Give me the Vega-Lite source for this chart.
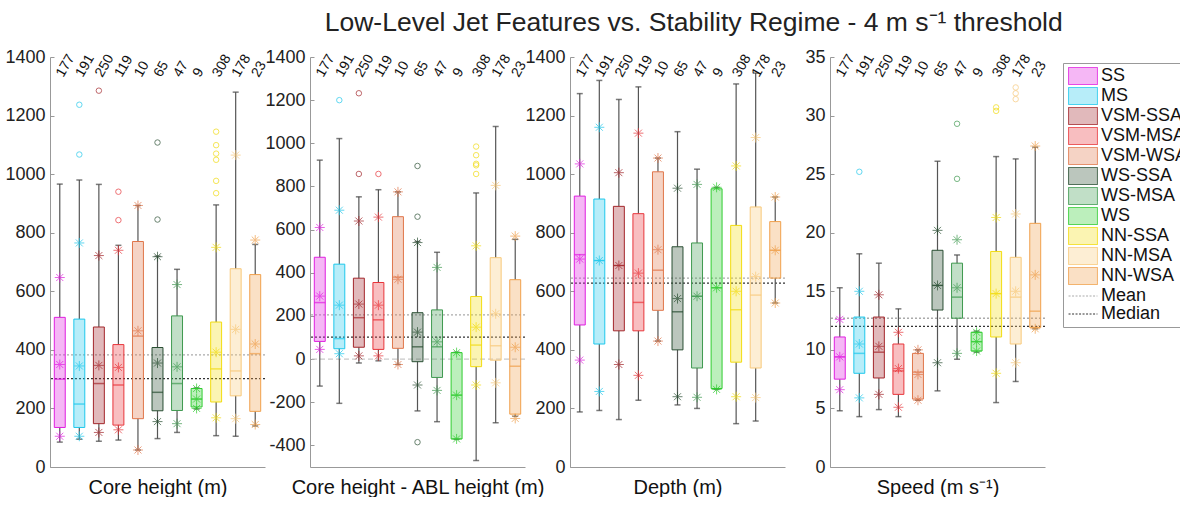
{
  "$schema": "https://vega.github.io/schema/vega-lite/v6.json",
  "background": "white",
  "padding": {"left": 4, "top": 9, "right": 0, "bottom": 0},
  "title": {"text": "Low-Level Jet Features vs. Stability Regime - 4 m s⁻¹ threshold", "fontSize": 26.5, "fontWeight": "normal", "color": "#222", "anchor": "middle", "dx": 95, "offset": 12},
  "datasets": {
    "stats": [
      {"p":1,"g":"SS","n":177,"lo":85,"q1":135,"med":300,"q3":511,"hi":966,"mean":350,"plo":105,"phi":647},
      {"p":1,"g":"MS","n":191,"lo":95,"q1":135,"med":215,"q3":505,"hi":980,"mean":345,"plo":105,"phi":765},
      {"p":1,"g":"VSM-SSA","n":250,"lo":88,"q1":148,"med":285,"q3":478,"hi":965,"mean":347,"plo":118,"phi":722},
      {"p":1,"g":"VSM-MSA","n":119,"lo":92,"q1":143,"med":280,"q3":418,"hi":757,"mean":340,"plo":127,"phi":740},
      {"p":1,"g":"VSM-WSA","n":10,"lo":58,"q1":165,"med":447,"q3":770,"hi":893,"mean":465,"plo":58,"phi":893},
      {"p":1,"g":"WS-SSA","n":65,"lo":97,"q1":192,"med":255,"q3":408,"hi":720,"mean":355,"plo":155,"phi":718},
      {"p":1,"g":"WS-MSA","n":47,"lo":118,"q1":193,"med":285,"q3":516,"hi":675,"mean":342,"plo":148,"phi":623},
      {"p":1,"g":"WS","n":9,"lo":198,"q1":205,"med":232,"q3":268,"hi":270,"mean":232,"plo":200,"phi":268},
      {"p":1,"g":"NN-SSA","n":308,"lo":107,"q1":222,"med":335,"q3":495,"hi":895,"mean":392,"plo":168,"phi":750},
      {"p":1,"g":"NN-MSA","n":178,"lo":105,"q1":243,"med":328,"q3":677,"hi":1280,"mean":470,"plo":165,"phi":1065},
      {"p":1,"g":"NN-WSA","n":23,"lo":140,"q1":190,"med":387,"q3":657,"hi":760,"mean":420,"plo":145,"phi":775},

      {"p":2,"g":"SS","n":177,"lo":-125,"q1":82,"med":262,"q3":472,"hi":922,"mean":292,"plo":45,"phi":610},
      {"p":2,"g":"MS","n":191,"lo":-205,"q1":48,"med":95,"q3":440,"hi":1022,"mean":250,"plo":25,"phi":690},
      {"p":2,"g":"VSM-SSA","n":250,"lo":-18,"q1":55,"med":192,"q3":375,"hi":752,"mean":255,"plo":15,"phi":640},
      {"p":2,"g":"VSM-MSA","n":119,"lo":-8,"q1":45,"med":182,"q3":355,"hi":785,"mean":250,"plo":15,"phi":658},
      {"p":2,"g":"VSM-WSA","n":10,"lo":-25,"q1":50,"med":380,"q3":660,"hi":775,"mean":370,"plo":-25,"phi":775},
      {"p":2,"g":"WS-SSA","n":65,"lo":-240,"q1":-12,"med":57,"q3":215,"hi":545,"mean":125,"plo":-120,"phi":540},
      {"p":2,"g":"WS-MSA","n":47,"lo":-290,"q1":-85,"med":57,"q3":228,"hi":495,"mean":80,"plo":-145,"phi":425},
      {"p":2,"g":"WS","n":9,"lo":-372,"q1":-370,"med":-167,"q3":30,"hi":32,"mean":-167,"plo":-370,"phi":30},
      {"p":2,"g":"NN-SSA","n":308,"lo":-470,"q1":-35,"med":65,"q3":290,"hi":770,"mean":148,"plo":-120,"phi":525},
      {"p":2,"g":"NN-MSA","n":178,"lo":-295,"q1":-5,"med":62,"q3":470,"hi":1078,"mean":210,"plo":-110,"phi":805},
      {"p":2,"g":"NN-WSA","n":23,"lo":-265,"q1":-255,"med":-33,"q3":368,"hi":555,"mean":55,"plo":-275,"phi":570},

      {"p":3,"g":"SS","n":177,"lo":188,"q1":485,"med":725,"q3":925,"hi":1275,"mean":710,"plo":365,"phi":1035},
      {"p":3,"g":"MS","n":191,"lo":193,"q1":420,"med":705,"q3":915,"hi":1320,"mean":705,"plo":258,"phi":1160},
      {"p":3,"g":"VSM-SSA","n":250,"lo":162,"q1":465,"med":688,"q3":890,"hi":1255,"mean":688,"plo":350,"phi":1005},
      {"p":3,"g":"VSM-MSA","n":119,"lo":228,"q1":465,"med":562,"q3":865,"hi":1298,"mean":662,"plo":313,"phi":1140},
      {"p":3,"g":"VSM-WSA","n":10,"lo":430,"q1":535,"med":672,"q3":1008,"hi":1055,"mean":742,"plo":430,"phi":1055},
      {"p":3,"g":"WS-SSA","n":65,"lo":212,"q1":400,"med":530,"q3":752,"hi":1145,"mean":575,"plo":240,"phi":952},
      {"p":3,"g":"WS-MSA","n":47,"lo":200,"q1":338,"med":583,"q3":765,"hi":1017,"mean":583,"plo":238,"phi":965},
      {"p":3,"g":"WS","n":9,"lo":265,"q1":268,"med":612,"q3":950,"hi":955,"mean":612,"plo":265,"phi":955},
      {"p":3,"g":"NN-SSA","n":308,"lo":148,"q1":358,"med":537,"q3":825,"hi":1308,"mean":600,"plo":240,"phi":1028},
      {"p":3,"g":"NN-MSA","n":178,"lo":157,"q1":338,"med":587,"q3":888,"hi":1345,"mean":650,"plo":237,"phi":1125},
      {"p":3,"g":"NN-WSA","n":23,"lo":560,"q1":645,"med":740,"q3":838,"hi":922,"mean":740,"plo":560,"phi":922},

      {"p":4,"g":"SS","n":177,"lo":4.8,"q1":7.5,"med":9.4,"q3":11.1,"hi":15.3,"mean":9.4,"plo":6.6,"phi":12.6},
      {"p":4,"g":"MS","n":191,"lo":4.3,"q1":8.0,"med":9.7,"q3":12.8,"hi":18.2,"mean":10.5,"plo":5.9,"phi":15.0},
      {"p":4,"g":"VSM-SSA","n":250,"lo":4.9,"q1":7.6,"med":9.8,"q3":12.8,"hi":17.4,"mean":10.3,"plo":6.2,"phi":14.7},
      {"p":4,"g":"VSM-MSA","n":119,"lo":4.3,"q1":6.2,"med":8.2,"q3":10.5,"hi":13.5,"mean":8.4,"plo":5.1,"phi":11.5},
      {"p":4,"g":"VSM-WSA","n":10,"lo":5.7,"q1":5.8,"med":8.1,"q3":9.7,"hi":10.0,"mean":7.9,"plo":5.7,"phi":10.0},
      {"p":4,"g":"WS-SSA","n":65,"lo":6.5,"q1":13.4,"med":15.5,"q3":18.5,"hi":26.1,"mean":15.5,"plo":8.9,"phi":20.2},
      {"p":4,"g":"WS-MSA","n":47,"lo":9.2,"q1":12.7,"med":14.5,"q3":17.4,"hi":18.1,"mean":15.3,"plo":9.7,"phi":19.4},
      {"p":4,"g":"WS","n":9,"lo":9.8,"q1":9.9,"med":10.7,"q3":11.5,"hi":11.6,"mean":10.7,"plo":9.9,"phi":11.5},
      {"p":4,"g":"NN-SSA","n":308,"lo":5.5,"q1":11.1,"med":14.8,"q3":18.4,"hi":26.5,"mean":14.8,"plo":8.0,"phi":21.3},
      {"p":4,"g":"NN-MSA","n":178,"lo":7.3,"q1":10.5,"med":14.5,"q3":17.9,"hi":26.3,"mean":15.0,"plo":8.9,"phi":21.6},
      {"p":4,"g":"NN-WSA","n":23,"lo":11.8,"q1":11.9,"med":13.3,"q3":20.8,"hi":27.3,"mean":16.4,"plo":11.8,"phi":27.4}
    ],
    "outliers": [
      {"p":1,"g":"MS","v":1237},{"p":1,"g":"MS","v":1067},{"p":1,"g":"VSM-SSA","v":1285},
      {"p":1,"g":"VSM-MSA","v":940},{"p":1,"g":"VSM-MSA","v":843},
      {"p":1,"g":"WS-SSA","v":1108},{"p":1,"g":"WS-SSA","v":845},
      {"p":1,"g":"NN-SSA","v":1145},{"p":1,"g":"NN-SSA","v":1099},{"p":1,"g":"NN-SSA","v":1070},{"p":1,"g":"NN-SSA","v":1049},{"p":1,"g":"NN-SSA","v":977},{"p":1,"g":"NN-SSA","v":935},
      {"p":2,"g":"MS","v":1200},{"p":2,"g":"VSM-SSA","v":1232},{"p":2,"g":"VSM-SSA","v":858},{"p":2,"g":"VSM-MSA","v":858},
      {"p":2,"g":"WS-SSA","v":895},{"p":2,"g":"WS-SSA","v":660},{"p":2,"g":"WS-SSA","v":-385},
      {"p":2,"g":"NN-SSA","v":985},{"p":2,"g":"NN-SSA","v":945},{"p":2,"g":"NN-SSA","v":905},{"p":2,"g":"NN-SSA","v":898},{"p":2,"g":"NN-SSA","v":858},
      {"p":4,"g":"MS","v":25.2},{"p":4,"g":"WS-MSA","v":29.3},{"p":4,"g":"WS-MSA","v":24.6},
      {"p":4,"g":"NN-SSA","v":30.7},{"p":4,"g":"NN-SSA","v":30.4},
      {"p":4,"g":"NN-MSA","v":32.4},{"p":4,"g":"NN-MSA","v":31.9},{"p":4,"g":"NN-MSA","v":31.4}
    ],
    "ref": [
      {"p":1,"g":"Mean","v":383},{"p":1,"g":"Median","v":302},
      {"p":2,"g":"Mean","v":205},{"p":2,"g":"Median","v":102},
      {"p":3,"g":"Mean","v":645},{"p":3,"g":"Median","v":628},
      {"p":4,"g":"Mean","v":12.7},{"p":4,"g":"Median","v":12.0}
    ]
  },
  "spacing": 45,
  "bounds": "flush",
  "hconcat": [
    {
      "width": 215, "height": 410,
      "layer": [
        {"data": {"name": "ref"}, "transform": [{"filter": "datum.p === 1"}],
         "mark": {"type": "rule", "strokeDash": [2, 2], "strokeWidth": 1.3},
         "encoding": {
           "y": {"field": "v", "type": "quantitative", "scale": {"domain": [0, 1400], "nice": false, "zero": false}, "axis": {"values": [0,200,400,600,800,1000,1200,1400], "title": null}},
           "stroke": {"field": "g", "type": "nominal", "scale": {"domain": ["SS","MS","VSM-SSA","VSM-MSA","VSM-WSA","WS-SSA","WS-MSA","WS","NN-SSA","NN-MSA","NN-WSA","Mean","Median"], "range": ["#e01ee0","#1ec8ec","#a3262b","#e8353a","#e0764a","#2a4f33","#3f9a50","#30cc30","#f2dc10","#f8c97a","#f0a04c","#aaaaaa","#333333"]}}
         }},
        {"data": {"name": "stats"}, "transform": [{"filter": "datum.p === 1"}],
         "mark": {"type": "rule", "color": "#555", "strokeWidth": 1.2},
         "encoding": {
           "x": {"field": "g", "type": "nominal", "scale": {"type": "band", "domain": ["SS","MS","VSM-SSA","VSM-MSA","VSM-WSA","WS-SSA","WS-MSA","WS","NN-SSA","NN-MSA","NN-WSA"], "paddingInner": 0.44, "paddingOuter": 0.22},
                 "axis": {"orient": "bottom", "labels": false, "ticks": false, "domain": true, "title": "Core height (m)"}},
           "y": {"field": "lo", "type": "quantitative", "title": null},
           "y2": {"field": "q1"}
         }},
        {"data": {"name": "stats"}, "transform": [{"filter": "datum.p === 1"}],
         "mark": {"type": "rule", "color": "#555", "strokeWidth": 1.2},
         "encoding": {
           "x": {"field": "g", "type": "nominal"},
           "y": {"field": "q3", "type": "quantitative", "title": null},
           "y2": {"field": "hi"}
         }},
        {"data": {"name": "stats"}, "transform": [{"filter": "datum.p === 1"}, {"fold": ["lo", "hi"], "as": ["k", "val"]}],
         "mark": {"type": "tick", "color": "#444", "size": 6, "thickness": 1.5},
         "encoding": {
           "x": {"field": "g", "type": "nominal"},
           "y": {"field": "val", "type": "quantitative", "title": null}
         }},
        {"data": {"name": "stats"}, "transform": [{"filter": "datum.p === 1"}],
         "mark": {"type": "rect", "fillOpacity": 0.32, "strokeWidth": 1},
         "encoding": {
           "x": {"field": "g", "type": "nominal"},
           "y": {"field": "q1", "type": "quantitative", "title": null},
           "y2": {"field": "q3"},
           "fill": {"field": "g", "type": "nominal", "scale": {"domain": ["SS","MS","VSM-SSA","VSM-MSA","VSM-WSA","WS-SSA","WS-MSA","WS","NN-SSA","NN-MSA","NN-WSA","Mean","Median"], "range": ["#e01ee0","#1ec8ec","#a3262b","#e8353a","#e0764a","#2a4f33","#3f9a50","#30cc30","#f2dc10","#f8c97a","#f0a04c","#aaaaaa","#333333"]},
             "legend": {"title": null, "orient": "none", "legendX": 1013, "legendY": 6, "strokeColor": "#999", "padding": 4, "labelFontSize": 18, "labelColor": "#111", "symbolSize": 289, "rowPadding": -2.5, "labelOffset": 9, "symbolOffset": 7, "labelLimit": 300,
               "encode": {"symbols": {"update": {
                 "shape": {"signal": "datum.value === 'Mean' || datum.value === 'Median' ? 'M-1.7,0H1.7' : 'M-1.7,-1H1.7V1H-1.7Z'"},
                 "strokeDash": {"signal": "datum.value === 'Mean' || datum.value === 'Median' ? [2, 1.5] : [1, 0]"},
                 "fillOpacity": {"signal": "datum.value === 'Mean' || datum.value === 'Median' ? 0 : 0.32"},
                 "strokeWidth": {"value": 1}
               }}}}},
           "stroke": {"field": "g", "type": "nominal"}
         }},
        {"data": {"name": "stats"}, "transform": [{"filter": "datum.p === 1"}],
         "mark": {"type": "tick", "size": 11, "thickness": 1.5},
         "encoding": {
           "x": {"field": "g", "type": "nominal"},
           "y": {"field": "med", "type": "quantitative", "title": null},
           "fill": {"field": "g", "type": "nominal"}
         }},
        {"data": {"name": "stats"}, "transform": [{"filter": "datum.p === 1"}, {"fold": ["plo", "phi", "mean"], "as": ["k", "val"]}],
         "mark": {"type": "point", "shape": "M-1,0H1M0,-1V1M-0.7,-0.7L0.7,0.7M-0.7,0.7L0.7,-0.7", "filled": false, "size": 100, "strokeWidth": 1, "opacity": 0.7},
         "encoding": {
           "x": {"field": "g", "type": "nominal"},
           "y": {"field": "val", "type": "quantitative", "title": null},
           "stroke": {"field": "g", "type": "nominal"}
         }},
        {"data": {"name": "outliers"}, "transform": [{"filter": "datum.p === 1"}],
         "mark": {"type": "point", "shape": "circle", "filled": false, "size": 30, "strokeWidth": 1},
         "encoding": {
           "x": {"field": "g", "type": "nominal"},
           "y": {"field": "v", "type": "quantitative", "title": null},
           "stroke": {"field": "g", "type": "nominal"}
         }},
        {"data": {"name": "stats"}, "transform": [{"filter": "datum.p === 1"}],
         "mark": {"type": "text", "angle": -60, "align": "left", "baseline": "middle", "fontSize": 14, "color": "#111", "dx": -16.5, "dy": 9.5},
         "encoding": {
           "x": {"field": "g", "type": "nominal"},
           "y": {"datum": 1400, "type": "quantitative"},
           "text": {"field": "n", "type": "nominal"}
         }}
      ]
    },
    {
      "width": 215, "height": 410,
      "layer": [
        {"data": {"name": "ref"}, "transform": [{"filter": "datum.p === 2"}],
         "mark": {"type": "rule", "strokeDash": [2, 2], "strokeWidth": 1.3},
         "encoding": {
           "y": {"field": "v", "type": "quantitative", "scale": {"domain": [-500, 1400], "nice": false, "zero": false}, "axis": {"values": [-400,-200,0,200,400,600,800,1000,1200,1400], "title": null}},
           "stroke": {"field": "g", "type": "nominal"}
         }},
        {"data": {"name": "ref"}, "transform": [{"filter": "datum.p === 2 && datum.g === 'Mean'"}],
         "mark": {"type": "rule", "strokeDash": [5, 3], "strokeWidth": 1, "color": "#bbbbbb"},
         "encoding": {
           "y": {"datum": 0, "type": "quantitative"}
         }},
        {"data": {"name": "stats"}, "transform": [{"filter": "datum.p === 2"}],
         "mark": {"type": "rule", "color": "#555", "strokeWidth": 1.2},
         "encoding": {
           "x": {"field": "g", "type": "nominal", "scale": {"type": "band", "domain": ["SS","MS","VSM-SSA","VSM-MSA","VSM-WSA","WS-SSA","WS-MSA","WS","NN-SSA","NN-MSA","NN-WSA"], "paddingInner": 0.44, "paddingOuter": 0.22},
                 "axis": {"orient": "bottom", "labels": false, "ticks": false, "domain": true, "title": "Core height - ABL height (m)"}},
           "y": {"field": "lo", "type": "quantitative", "title": null},
           "y2": {"field": "q1"}
         }},
        {"data": {"name": "stats"}, "transform": [{"filter": "datum.p === 2"}],
         "mark": {"type": "rule", "color": "#555", "strokeWidth": 1.2},
         "encoding": {
           "x": {"field": "g", "type": "nominal"},
           "y": {"field": "q3", "type": "quantitative", "title": null},
           "y2": {"field": "hi"}
         }},
        {"data": {"name": "stats"}, "transform": [{"filter": "datum.p === 2"}, {"fold": ["lo", "hi"], "as": ["k", "val"]}],
         "mark": {"type": "tick", "color": "#444", "size": 6, "thickness": 1.5},
         "encoding": {
           "x": {"field": "g", "type": "nominal"},
           "y": {"field": "val", "type": "quantitative", "title": null}
         }},
        {"data": {"name": "stats"}, "transform": [{"filter": "datum.p === 2"}],
         "mark": {"type": "rect", "fillOpacity": 0.32, "strokeWidth": 1},
         "encoding": {
           "x": {"field": "g", "type": "nominal"},
           "y": {"field": "q1", "type": "quantitative", "title": null},
           "y2": {"field": "q3"},
           "fill": {"field": "g", "type": "nominal"},
           "stroke": {"field": "g", "type": "nominal"}
         }},
        {"data": {"name": "stats"}, "transform": [{"filter": "datum.p === 2"}],
         "mark": {"type": "tick", "size": 11, "thickness": 1.5},
         "encoding": {
           "x": {"field": "g", "type": "nominal"},
           "y": {"field": "med", "type": "quantitative", "title": null},
           "fill": {"field": "g", "type": "nominal"}
         }},
        {"data": {"name": "stats"}, "transform": [{"filter": "datum.p === 2"}, {"fold": ["plo", "phi", "mean"], "as": ["k", "val"]}],
         "mark": {"type": "point", "shape": "M-1,0H1M0,-1V1M-0.7,-0.7L0.7,0.7M-0.7,0.7L0.7,-0.7", "filled": false, "size": 100, "strokeWidth": 1, "opacity": 0.7},
         "encoding": {
           "x": {"field": "g", "type": "nominal"},
           "y": {"field": "val", "type": "quantitative", "title": null},
           "stroke": {"field": "g", "type": "nominal"}
         }},
        {"data": {"name": "outliers"}, "transform": [{"filter": "datum.p === 2"}],
         "mark": {"type": "point", "shape": "circle", "filled": false, "size": 30, "strokeWidth": 1},
         "encoding": {
           "x": {"field": "g", "type": "nominal"},
           "y": {"field": "v", "type": "quantitative", "title": null},
           "stroke": {"field": "g", "type": "nominal"}
         }},
        {"data": {"name": "stats"}, "transform": [{"filter": "datum.p === 2"}],
         "mark": {"type": "text", "angle": -60, "align": "left", "baseline": "middle", "fontSize": 14, "color": "#111", "dx": -16.5, "dy": 9.5},
         "encoding": {
           "x": {"field": "g", "type": "nominal"},
           "y": {"datum": 1400, "type": "quantitative"},
           "text": {"field": "n", "type": "nominal"}
         }}
      ]
    },
    {
      "width": 215, "height": 410,
      "layer": [
        {"data": {"name": "ref"}, "transform": [{"filter": "datum.p === 3"}],
         "mark": {"type": "rule", "strokeDash": [2, 2], "strokeWidth": 1.3},
         "encoding": {
           "y": {"field": "v", "type": "quantitative", "scale": {"domain": [0, 1400], "nice": false, "zero": false}, "axis": {"values": [0,200,400,600,800,1000,1200,1400], "title": null}},
           "stroke": {"field": "g", "type": "nominal"}
         }},
        {"data": {"name": "stats"}, "transform": [{"filter": "datum.p === 3"}],
         "mark": {"type": "rule", "color": "#555", "strokeWidth": 1.2},
         "encoding": {
           "x": {"field": "g", "type": "nominal", "scale": {"type": "band", "domain": ["SS","MS","VSM-SSA","VSM-MSA","VSM-WSA","WS-SSA","WS-MSA","WS","NN-SSA","NN-MSA","NN-WSA"], "paddingInner": 0.44, "paddingOuter": 0.22},
                 "axis": {"orient": "bottom", "labels": false, "ticks": false, "domain": true, "title": "Depth (m)"}},
           "y": {"field": "lo", "type": "quantitative", "title": null},
           "y2": {"field": "q1"}
         }},
        {"data": {"name": "stats"}, "transform": [{"filter": "datum.p === 3"}],
         "mark": {"type": "rule", "color": "#555", "strokeWidth": 1.2},
         "encoding": {
           "x": {"field": "g", "type": "nominal"},
           "y": {"field": "q3", "type": "quantitative", "title": null},
           "y2": {"field": "hi"}
         }},
        {"data": {"name": "stats"}, "transform": [{"filter": "datum.p === 3"}, {"fold": ["lo", "hi"], "as": ["k", "val"]}],
         "mark": {"type": "tick", "color": "#444", "size": 6, "thickness": 1.5},
         "encoding": {
           "x": {"field": "g", "type": "nominal"},
           "y": {"field": "val", "type": "quantitative", "title": null}
         }},
        {"data": {"name": "stats"}, "transform": [{"filter": "datum.p === 3"}],
         "mark": {"type": "rect", "fillOpacity": 0.32, "strokeWidth": 1},
         "encoding": {
           "x": {"field": "g", "type": "nominal"},
           "y": {"field": "q1", "type": "quantitative", "title": null},
           "y2": {"field": "q3"},
           "fill": {"field": "g", "type": "nominal"},
           "stroke": {"field": "g", "type": "nominal"}
         }},
        {"data": {"name": "stats"}, "transform": [{"filter": "datum.p === 3"}],
         "mark": {"type": "tick", "size": 11, "thickness": 1.5},
         "encoding": {
           "x": {"field": "g", "type": "nominal"},
           "y": {"field": "med", "type": "quantitative", "title": null},
           "fill": {"field": "g", "type": "nominal"}
         }},
        {"data": {"name": "stats"}, "transform": [{"filter": "datum.p === 3"}, {"fold": ["plo", "phi", "mean"], "as": ["k", "val"]}],
         "mark": {"type": "point", "shape": "M-1,0H1M0,-1V1M-0.7,-0.7L0.7,0.7M-0.7,0.7L0.7,-0.7", "filled": false, "size": 100, "strokeWidth": 1, "opacity": 0.7},
         "encoding": {
           "x": {"field": "g", "type": "nominal"},
           "y": {"field": "val", "type": "quantitative", "title": null},
           "stroke": {"field": "g", "type": "nominal"}
         }},
        {"data": {"name": "stats"}, "transform": [{"filter": "datum.p === 3"}],
         "mark": {"type": "text", "angle": -60, "align": "left", "baseline": "middle", "fontSize": 14, "color": "#111", "dx": -16.5, "dy": 9.5},
         "encoding": {
           "x": {"field": "g", "type": "nominal"},
           "y": {"datum": 1400, "type": "quantitative"},
           "text": {"field": "n", "type": "nominal"}
         }}
      ]
    },
    {
      "width": 215, "height": 410,
      "layer": [
        {"data": {"name": "ref"}, "transform": [{"filter": "datum.p === 4"}],
         "mark": {"type": "rule", "strokeDash": [2, 2], "strokeWidth": 1.3},
         "encoding": {
           "y": {"field": "v", "type": "quantitative", "scale": {"domain": [0, 35], "nice": false, "zero": false}, "axis": {"values": [0,5,10,15,20,25,30,35], "title": null}},
           "stroke": {"field": "g", "type": "nominal"}
         }},
        {"data": {"name": "stats"}, "transform": [{"filter": "datum.p === 4"}],
         "mark": {"type": "rule", "color": "#555", "strokeWidth": 1.2},
         "encoding": {
           "x": {"field": "g", "type": "nominal", "scale": {"type": "band", "domain": ["SS","MS","VSM-SSA","VSM-MSA","VSM-WSA","WS-SSA","WS-MSA","WS","NN-SSA","NN-MSA","NN-WSA"], "paddingInner": 0.44, "paddingOuter": 0.22},
                 "axis": {"orient": "bottom", "labels": false, "ticks": false, "domain": true, "title": "Speed (m s⁻¹)"}},
           "y": {"field": "lo", "type": "quantitative", "title": null},
           "y2": {"field": "q1"}
         }},
        {"data": {"name": "stats"}, "transform": [{"filter": "datum.p === 4"}],
         "mark": {"type": "rule", "color": "#555", "strokeWidth": 1.2},
         "encoding": {
           "x": {"field": "g", "type": "nominal"},
           "y": {"field": "q3", "type": "quantitative", "title": null},
           "y2": {"field": "hi"}
         }},
        {"data": {"name": "stats"}, "transform": [{"filter": "datum.p === 4"}, {"fold": ["lo", "hi"], "as": ["k", "val"]}],
         "mark": {"type": "tick", "color": "#444", "size": 6, "thickness": 1.5},
         "encoding": {
           "x": {"field": "g", "type": "nominal"},
           "y": {"field": "val", "type": "quantitative", "title": null}
         }},
        {"data": {"name": "stats"}, "transform": [{"filter": "datum.p === 4"}],
         "mark": {"type": "rect", "fillOpacity": 0.32, "strokeWidth": 1},
         "encoding": {
           "x": {"field": "g", "type": "nominal"},
           "y": {"field": "q1", "type": "quantitative", "title": null},
           "y2": {"field": "q3"},
           "fill": {"field": "g", "type": "nominal"},
           "stroke": {"field": "g", "type": "nominal"}
         }},
        {"data": {"name": "stats"}, "transform": [{"filter": "datum.p === 4"}],
         "mark": {"type": "tick", "size": 11, "thickness": 1.5},
         "encoding": {
           "x": {"field": "g", "type": "nominal"},
           "y": {"field": "med", "type": "quantitative", "title": null},
           "fill": {"field": "g", "type": "nominal"}
         }},
        {"data": {"name": "stats"}, "transform": [{"filter": "datum.p === 4"}, {"fold": ["plo", "phi", "mean"], "as": ["k", "val"]}],
         "mark": {"type": "point", "shape": "M-1,0H1M0,-1V1M-0.7,-0.7L0.7,0.7M-0.7,0.7L0.7,-0.7", "filled": false, "size": 100, "strokeWidth": 1, "opacity": 0.7},
         "encoding": {
           "x": {"field": "g", "type": "nominal"},
           "y": {"field": "val", "type": "quantitative", "title": null},
           "stroke": {"field": "g", "type": "nominal"}
         }},
        {"data": {"name": "outliers"}, "transform": [{"filter": "datum.p === 4"}],
         "mark": {"type": "point", "shape": "circle", "filled": false, "size": 30, "strokeWidth": 1},
         "encoding": {
           "x": {"field": "g", "type": "nominal"},
           "y": {"field": "v", "type": "quantitative", "title": null},
           "stroke": {"field": "g", "type": "nominal"}
         }},
        {"data": {"name": "stats"}, "transform": [{"filter": "datum.p === 4"}],
         "mark": {"type": "text", "angle": -60, "align": "left", "baseline": "middle", "fontSize": 14, "color": "#111", "dx": -16.5, "dy": 9.5},
         "encoding": {
           "x": {"field": "g", "type": "nominal"},
           "y": {"datum": 35, "type": "quantitative"},
           "text": {"field": "n", "type": "nominal"}
         }}
      ]
    }
  ],
  "config": {
    "font": "Liberation Sans",
    "view": {"stroke": null},
    "axis": {"grid": false, "labelFontSize": 18, "labelColor": "#222", "domainColor": "#999", "tickColor": "#999", "titleFontSize": 20, "titleFontWeight": "normal", "titleColor": "#111", "titlePadding": 10},
    "axisY": {"tickSize": -4, "labelPadding": 9, "labelExpr": "datum.value < 0 ? '-' + abs(datum.value) : '' + datum.value"}
  }
}
